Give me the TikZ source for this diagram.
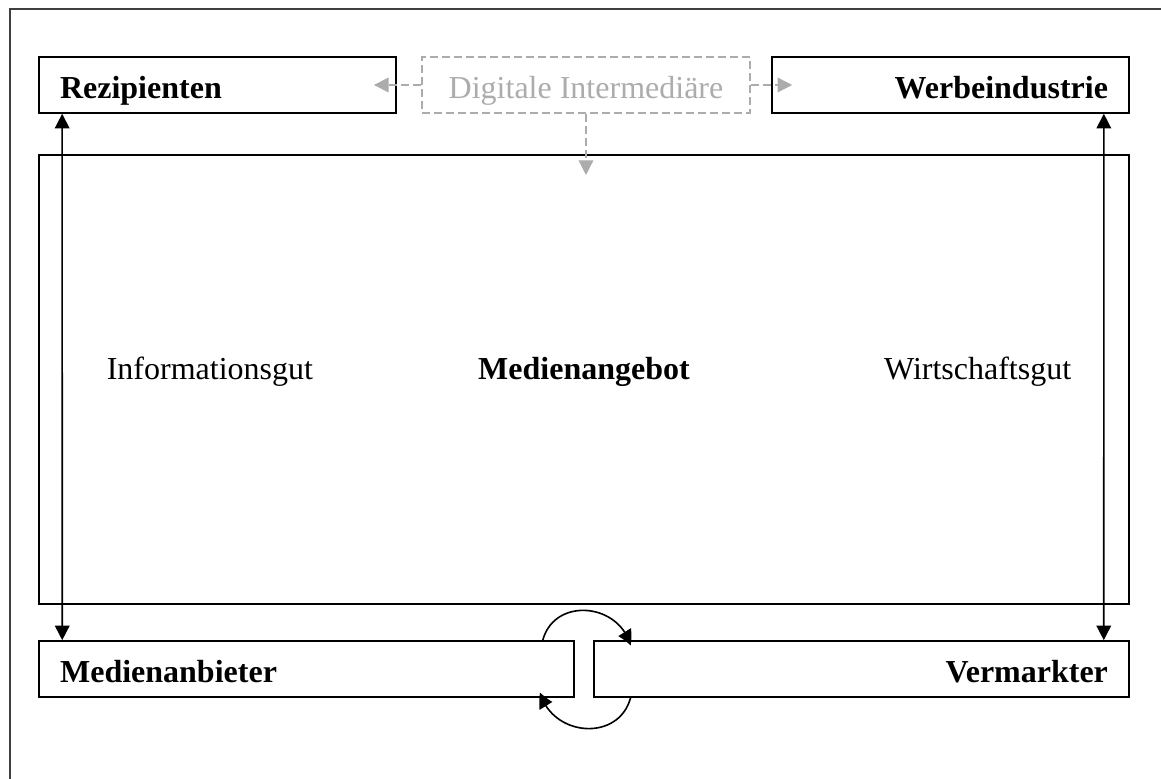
\documentclass[tikz,border=0pt]{standalone}
\usepackage{fontspec}
\setmainfont{Liberation Serif}
\usetikzlibrary{arrows.meta,bending}

\tikzset{
	box/.style={draw, line width=0.6pt, minimum height=21pt, text height=10.5pt, text depth=0pt, inner xsep=7.9pt, inner ysep=0pt, font=\bfseries},
	dbox/.style={box, draw=gray!65, text=gray!65, dash pattern=on 3pt off 1.5pt, font=\mdseries, minimum width=123pt},
	grayarr/.style={->, draw=gray!65, line width=0.5pt, dash pattern=on 3pt off 1.5pt},
	label/.style={inner sep=0pt},
	turn/.style={-{Triangle[length=5.5pt,width=5.5pt,bend]}, looseness=1.3}
}

\begin{document}
\fontsize{12pt}{14pt}\selectfont
\begin{tikzpicture}[x=0.375pt, y=-0.375pt, >={Triangle[length=5.5pt,width=5.5pt]}, line width=0.6pt]
	\useasboundingbox (0,0) rectangle (1161,779);
	\draw[black!75, line width=0.8pt] (10,779) -- (10,9) -- (1161,9);

	\node[box, text width=118.1pt, align=left] (rez) at (217.5,85) {Rezipienten};
	\node[dbox] (dig) at (586,85) {Digitale Intermediäre};
	\node[box, text width=118.1pt, align=right] (werbe) at (950.5,85) {Werbeindustrie};

	\node[box, minimum width=408.75pt, minimum height=168.4pt, text height=5pt, text depth=5pt] (angebot) at (584,379.5) {Medienangebot};
	\node[label, anchor=base west] (info) at (106,380) {Informationsgut};
	\node[label, anchor=base east] (wirt) at (1072,380) {Wirtschaftsgut};

	\node[box, text width=184.8pt, align=left] (anbieter) at (306.5,669) {Medienanbieter};
	\node[box, text width=184.8pt, align=right] (verm) at (861.5,669) {Vermarkter};

	\coordinate (drop) at (586,175);

	\draw[grayarr] (dig.west) -- ([xshift=-8.6pt]rez.east);
	\draw[grayarr] (dig.east) -- ([xshift=7.9pt]werbe.west);
	\draw[grayarr] (dig.south) -- (drop);

	\draw[<->] ([xshift=9pt]rez.south west) -- ([xshift=9pt]anbieter.north west);
	\draw[<->] ([xshift=-9.75pt]werbe.south east) -- ([xshift=-9.75pt]verm.north east);

	\draw[turn] ([xshift=-12pt]anbieter.north east) to[out=75, in=105] ([xshift=14pt,yshift=-2pt]verm.north west);
	\draw[turn] ([xshift=14pt]verm.south west) to[out=-105, in=-75] ([xshift=-13pt,yshift=2pt]anbieter.south east);
\end{tikzpicture}
\end{document}
